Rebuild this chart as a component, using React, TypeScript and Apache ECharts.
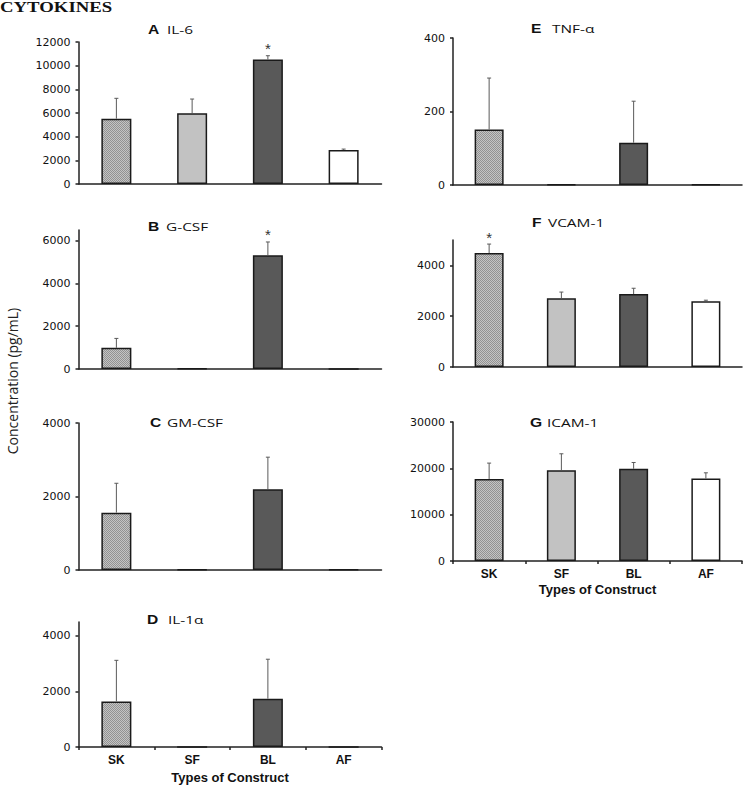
import React, { useEffect, useRef } from 'react';
import * as echarts from 'echarts';

// ---------- data ----------
const categories = ['SK', 'SF', 'BL', 'AF'];

const il6Values = [5520, 5970, 10520, 2870];
const il6Errors = [1720, 1210, 320, 80];
const il6Stars = [0, 0, 1, 0];
const il6Ticks = [0, 2000, 4000, 6000, 8000, 10000, 12000];

const gcsfValues = [990, 30, 5320, 0];
const gcsfErrors = [440, 0, 620, 0];
const gcsfStars = [0, 0, 1, 0];
const gcsfTicks = [0, 2000, 4000, 6000];

const gmcsfValues = [1560, 15, 2200, 15];
const gmcsfErrors = [800, 0, 870, 0];
const gmcsfStars = [0, 0, 0, 0];
const gmcsfTicks = [0, 2000, 4000];

const il1aValues = [1640, 0, 1740, 0];
const il1aErrors = [1480, 0, 1420, 0];
const il1aStars = [0, 0, 0, 0];
const il1aTicks = [0, 2000, 4000];

const tnfaValues = [151, 2, 115, 2];
const tnfaErrors = [140, 0, 113, 0];
const tnfaStars = [0, 0, 0, 0];
const tnfaTicks = [0, 200, 400];

const vcamValues = [4490, 2710, 2870, 2590];
const vcamErrors = [350, 240, 230, 40];
const vcamStars = [1, 0, 0, 0];
const vcamTicks = [0, 2000, 4000];

const icamValues = [17700, 19600, 19900, 17800];
const icamErrors = [3430, 3540, 1360, 1230];
const icamStars = [0, 0, 0, 0];
const icamTicks = [0, 10000, 20000, 30000];

const xAxisTitle = 'Types of Construct';
const yAxisTitle = 'Concentration (pg/mL)';
const figureTitle = 'CYTOKINES';

// ---------- layout ----------
const panels = [
  { letter: 'A', name: 'IL-6', values: il6Values, errors: il6Errors, stars: il6Stars, ticks: il6Ticks, max: 12000, interval: 2000,
    grid: { left: 78.5, top: 42, width: 303, height: 142 }, lx: 148, nx: 167, ty: 30, showX: false, barW: 30 },
  { letter: 'B', name: 'G-CSF', values: gcsfValues, errors: gcsfErrors, stars: gcsfStars, ticks: gcsfTicks, max: 6500, interval: 500,
    grid: { left: 78.5, top: 230, width: 303, height: 139 }, lx: 148, nx: 166, ty: 227, showX: false, barW: 30 },
  { letter: 'C', name: 'GM-CSF', values: gmcsfValues, errors: gmcsfErrors, stars: gmcsfStars, ticks: gmcsfTicks, max: 4000, interval: 2000,
    grid: { left: 78.5, top: 423, width: 303, height: 147 }, lx: 150, nx: 167, ty: 423, showX: false, barW: 30 },
  { letter: 'D', name: 'IL-1α', values: il1aValues, errors: il1aErrors, stars: il1aStars, ticks: il1aTicks, max: 4500, interval: 500,
    grid: { left: 78.5, top: 622, width: 303, height: 125 }, lx: 147, nx: 168, ty: 620, showX: true, barW: 30, nameGap: 24 },
  { letter: 'E', name: 'TNF-α', values: tnfaValues, errors: tnfaErrors, stars: tnfaStars, ticks: tnfaTicks, max: 400, interval: 200,
    grid: { left: 453, top: 38, width: 289, height: 147 }, lx: 531, nx: 552, ty: 29, showX: false, barW: 29 },
  { letter: 'F', name: 'VCAM-1', values: vcamValues, errors: vcamErrors, stars: vcamStars, ticks: vcamTicks, max: 5000, interval: 1000,
    grid: { left: 453, top: 240, width: 289, height: 127 }, lx: 532, nx: 548, ty: 223, showX: false, barW: 29 },
  { letter: 'G', name: 'ICAM-1', values: icamValues, errors: icamErrors, stars: icamStars, ticks: icamTicks, max: 30000, interval: 10000,
    grid: { left: 453, top: 422, width: 289, height: 139 }, lx: 530, nx: 547, ty: 423, showX: true, barW: 29, nameGap: 22 },
];

function makePattern(): HTMLCanvasElement {
  const c = document.createElement('canvas');
  c.width = 2;
  c.height = 2;
  const ctx = c.getContext('2d')!;
  ctx.fillStyle = '#c4c4c4';
  ctx.fillRect(0, 0, 2, 2);
  ctx.fillStyle = '#929292';
  ctx.fillRect(0, 0, 1, 1);
  ctx.fillRect(1, 1, 1, 1);
  return c;
}

export default function App() {
  const ref = useRef<HTMLDivElement>(null);

  useEffect(() => {
    if (!ref.current) return;
    const chart = echarts.init(ref.current, undefined, { renderer: 'svg' });
    const pattern: any = { image: makePattern(), repeat: 'repeat', imageWidth: 2, imageHeight: 2 };
    const barColors: any[] = [pattern, '#c2c2c2', '#595959', '#ffffff'];
    const axisColor = '#222';

    const grids: any[] = [];
    const xAxes: any[] = [];
    const yAxes: any[] = [];
    const series: any[] = [];
    const graphics: any[] = [];

    panels.forEach((p, i) => {
      grids.push({ ...p.grid, containLabel: false });
      xAxes.push({
        gridIndex: i,
        type: 'category',
        data: categories,
        axisLine: { show: true, lineStyle: { color: axisColor, width: 1.5 } },
        axisTick: { show: p.showX, length: 3, lineStyle: { color: axisColor, width: 1.5 } },
        axisLabel: {
          show: p.showX, margin: 7, color: '#111', fontFamily: 'Liberation Sans', fontWeight: 'bold', fontSize: 12,
        },
        name: p.showX ? xAxisTitle : '',
        nameLocation: 'middle',
        nameGap: p.nameGap || 24,
        nameTextStyle: { color: '#111', fontFamily: 'Liberation Sans', fontWeight: 'bold', fontSize: 13, verticalAlign: 'top' },
        splitLine: { show: false },
      });
      yAxes.push({
        gridIndex: i,
        type: 'value',
        min: 0,
        max: p.max,
        interval: p.interval,
        axisLine: { show: true, lineStyle: { color: axisColor, width: 1.5 } },
        axisTick: { show: true, length: 3, lineStyle: { color: axisColor, width: 1.5 }, customValues: p.ticks },
        axisLabel: {
          margin: 8, color: '#111', fontFamily: 'DejaVu Sans', fontSize: 11, customValues: p.ticks,
          formatter: (v: number) => String(v),
        },
        splitLine: { show: false },
      });
      series.push({
        type: 'bar',
        xAxisIndex: i,
        yAxisIndex: i,
        barWidth: p.barW,
        data: p.values.map((v, k) => ({ value: v, itemStyle: { color: barColors[k] } })),
        itemStyle: { borderColor: '#1a1a1a', borderWidth: 1.5 },
        z: 2,
      });
      series.push({
        type: 'custom',
        xAxisIndex: i,
        yAxisIndex: i,
        z: 3,
        data: p.values.map((v, k) => [k, v, p.errors[k], p.stars[k]]),
        encode: { x: 0, y: 1 },
        renderItem: (params: any, api: any) => {
          const x = api.value(0);
          const v = api.value(1);
          const e = api.value(2);
          const s = api.value(3);
          const base = api.coord([x, v]);
          const top = api.coord([x, v + e]);
          const children: any[] = [];
          if (e > 0) {
            children.push({
              type: 'line',
              shape: { x1: base[0], y1: base[1], x2: top[0], y2: top[1] },
              style: { stroke: '#5a5a5a', lineWidth: 1 },
            });
            children.push({
              type: 'line',
              shape: { x1: top[0] - 2, y1: top[1], x2: top[0] + 2, y2: top[1] },
              style: { stroke: '#5a5a5a', lineWidth: 1 },
            });
          }
          if (s) {
            children.push({
              type: 'text',
              x: top[0],
              y: top[1] - 7,
              style: { text: '*', fontSize: 15, fontFamily: 'Liberation Sans', fill: '#333', align: 'center', verticalAlign: 'middle' },
            });
          }
          return { type: 'group', children };
        },
      });
      graphics.push({
        type: 'text', x: p.lx, y: p.ty, scaleX: 1.3,
        style: { text: p.letter, fontFamily: 'Liberation Sans', fontWeight: 'bold', fontSize: 12, fill: '#111', verticalAlign: 'middle' },
      });
      graphics.push({
        type: 'text', x: p.nx, y: p.ty, scaleX: 1.4,
        style: { text: p.name, fontFamily: 'Open Sans', fontSize: 11, fill: '#111', verticalAlign: 'middle' },
      });
    });

    graphics.push({
      type: 'text', x: 0, y: 14.7, scaleX: 1.25,
      style: { text: figureTitle, fontFamily: 'Liberation Serif', fontWeight: 'bold', fontSize: 15, fill: '#111', verticalAlign: 'bottom' },
    });
    graphics.push({
      type: 'text', x: 12, y: 381, rotation: Math.PI / 2,
      style: { text: yAxisTitle, fontFamily: 'Open Sans', fontSize: 14, fill: '#222', align: 'center', verticalAlign: 'middle' },
    });

    chart.setOption({
      animation: false,
      backgroundColor: '#ffffff',
      grid: grids,
      xAxis: xAxes,
      yAxis: yAxes,
      series,
      graphic: graphics,
    });
    return () => chart.dispose();
  }, []);

  return <div ref={ref} style={{ position: 'fixed', left: 0, top: 0, width: 746, height: 785 }} />;
}
